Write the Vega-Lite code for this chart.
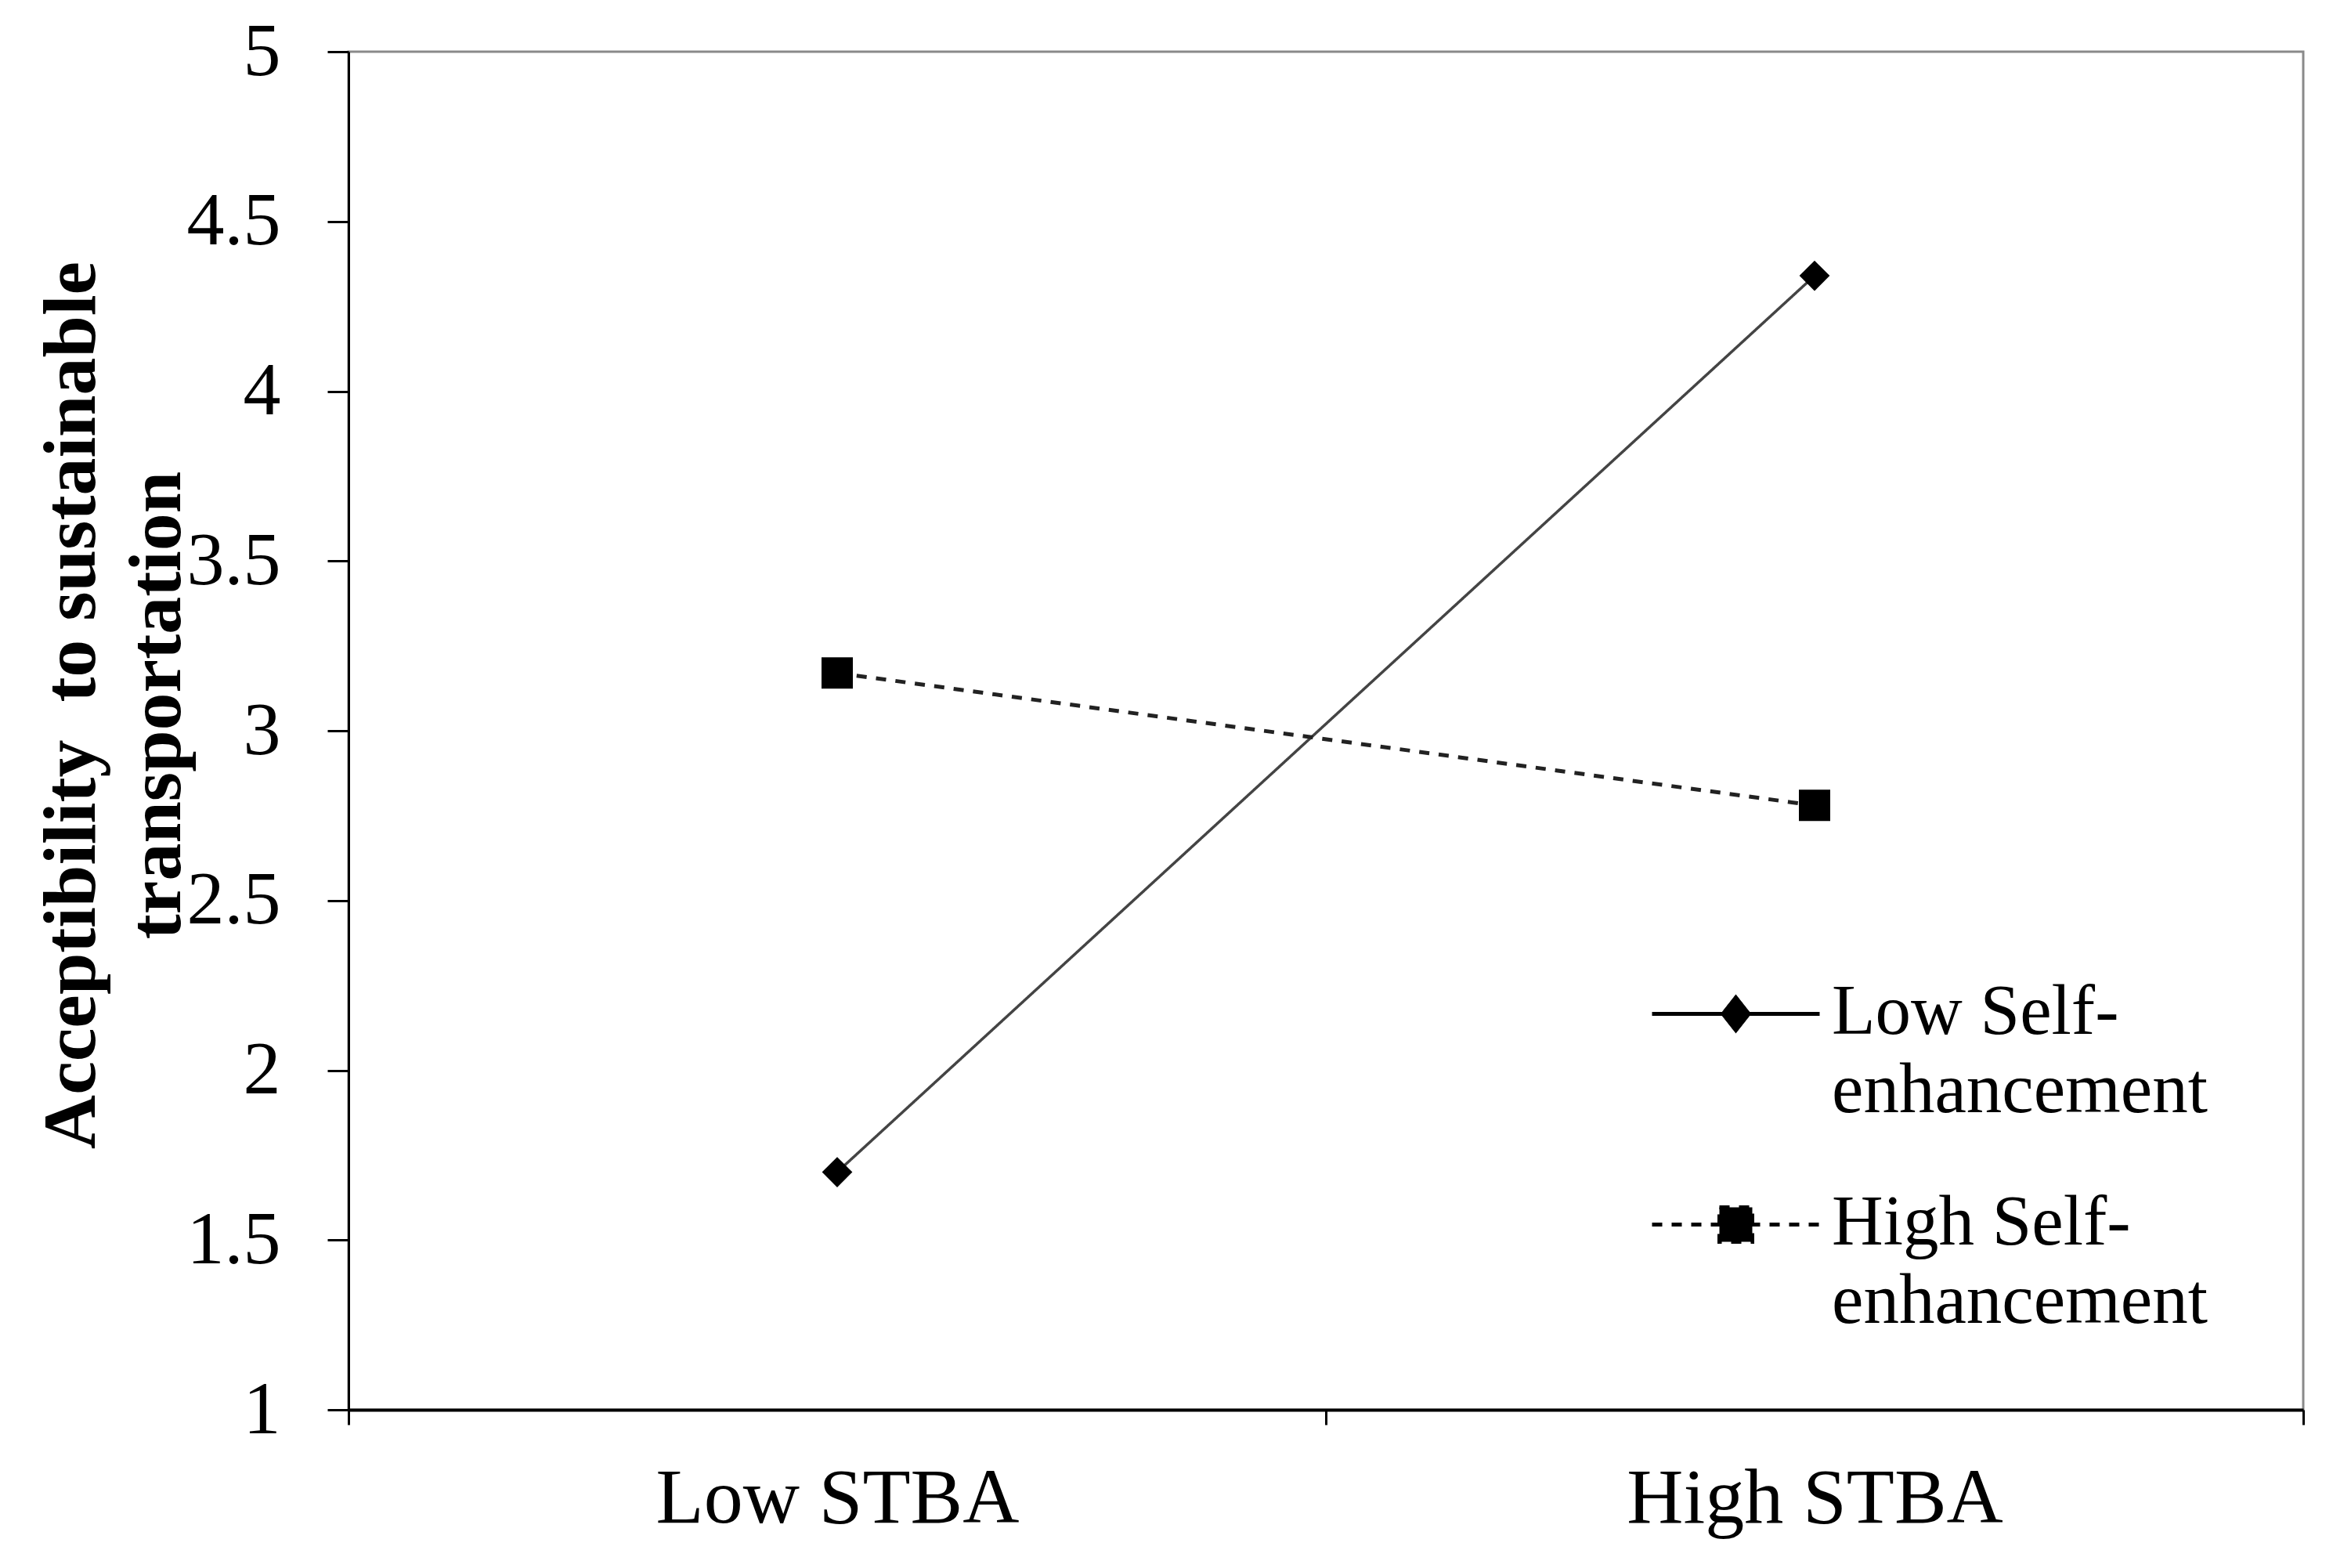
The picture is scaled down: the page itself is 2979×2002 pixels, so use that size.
{
  "$schema": "https://vega.github.io/schema/vega-lite/v6.json",
  "width": 2496,
  "height": 1734,
  "autosize": "none",
  "padding": {"left": 445, "top": 66, "right": 38, "bottom": 202},
  "background": "white",
  "config": {"view": {"stroke": "#8a8a8a", "strokeWidth": 3}, "font": "Liberation Serif"},
  "data": {"values": [
    {"stba": "Low STBA", "group": "Low Self-enhancement", "value": 1.70},
    {"stba": "High STBA", "group": "Low Self-enhancement", "value": 4.34},
    {"stba": "Low STBA", "group": "High Self-enhancement", "value": 3.17},
    {"stba": "High STBA", "group": "High Self-enhancement", "value": 2.78}
  ]},
  "encoding": {
    "x": {
      "field": "stba", "type": "nominal", "sort": ["Low STBA", "High STBA"],
      "scale": {"type": "band", "paddingInner": 0, "paddingOuter": 0},
      "axis": {
        "title": null, "labelAngle": 0, "tickBand": "extent", "labelLimit": 2000,
        "labelFont": "Liberation Serif", "labelFontSize": 100, "labelColor": "#000",
        "labelPadding": 45, "tickSize": 19, "tickWidth": 3, "tickColor": "#000",
        "domainColor": "#000", "domainWidth": 4, "grid": false
      }
    },
    "y": {
      "field": "value", "type": "quantitative",
      "scale": {"domain": [1, 5], "nice": false, "zero": false},
      "axis": {
        "title": ["Acceptibility\u00a0 to sustainable", "transportation"],
        "titleFont": "Liberation Serif", "titleFontWeight": "bold", "titleFontSize": 96,
        "titleColor": "#000", "titleLineHeight": 109, "titleAngle": -90,
        "titleBaseline": "middle", "titleAlign": "center", "titleX": -354, "titleY": 834,
        "values": [1, 1.5, 2, 2.5, 3, 3.5, 4, 4.5, 5], "format": "~g",
        "labelFont": "Liberation Serif", "labelFontSize": 96, "labelColor": "#000",
        "labelPadding": 60, "tickSize": 27, "tickWidth": 3, "tickColor": "#000",
        "domainColor": "#000", "domainWidth": 3, "grid": false
      }
    }
  },
  "layer": [
    {
      "transform": [{"filter": "datum.group === 'Low Self-enhancement'"}],
      "mark": {"type": "line", "color": "#444444", "strokeWidth": 3.5},
      "encoding": {
        "strokeDash": {
          "field": "group", "type": "nominal",
          "scale": {"domain": ["Low Self-enhancement", "High Self-enhancement"], "range": [[1, 0], [13, 12]]},
          "legend": {
            "orient": "none", "legendX": 1719, "legendY": 1176, "title": null,
            "symbolSize": 10000, "symbolStrokeWidth": 5, "symbolStrokeColor": "#000", "symbolFillColor": "#000",
            "labelFont": "Liberation Serif", "labelFontSize": 91, "labelColor": "#000",
            "labelLimit": 2000, "labelOffset": 70, "rowPadding": 73,
            "labelBaseline": "alphabetic",
            "labelExpr": "datum.label === 'Low Self-enhancement' ? ['Low Self-', 'enhancement'] : ['High Self-', 'enhancement']",
            "encode": {
              "symbols": {"update": {
                "shape": {"signal": "datum.value === 'Low Self-enhancement' ? 'M-2.14,0L2.14,0M0,-0.42L0.33,0L0,0.42L-0.33,0Z' : 'M-2.14,0L2.14,0M-0.42,-0.44L0.42,-0.44L0.42,0.44L-0.42,0.44Z'"},
                "fill": {"value": "#000"},
                "stroke": {"value": "#000"},
                "strokeWidth": {"value": 5},
                "opacity": {"value": 1}
              }},
              "labels": {"update": {"dy": {"value": 25}, "lineHeight": {"value": 100}}}
            }
          }
        }
      }
    },
    {
      "transform": [{"filter": "datum.group === 'High Self-enhancement'"}],
      "mark": {"type": "line", "color": "#222222", "strokeWidth": 5, "strokeDash": [13, 12]},
      "encoding": {}
    },
    {
      "transform": [{"filter": "datum.group === 'Low Self-enhancement'"}],
      "mark": {"type": "point", "filled": true, "opacity": 1, "color": "#000", "shape": "diamond", "size": 1500},
      "encoding": {}
    },
    {
      "transform": [{"filter": "datum.group === 'High Self-enhancement'"}],
      "mark": {"type": "point", "filled": true, "opacity": 1, "color": "#000", "shape": "square", "size": 1600},
      "encoding": {}
    }
  ]
}
